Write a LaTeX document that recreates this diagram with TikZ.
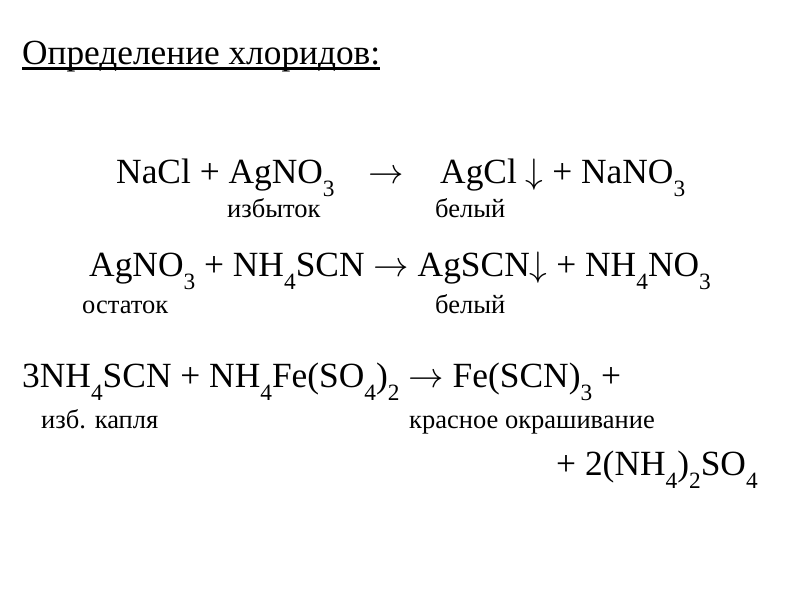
\documentclass[tikz,border=0pt]{standalone}
\usepackage{fontspec}
\setmainfont{Liberation Serif}
\usetikzlibrary{positioning}
\newcommand{\dn}[1]{\raisebox{-0.8ex}{\scalebox{0.66}{#1}}}
\newcommand{\yields}{\scalebox{3.54}{\fontsize{10}{10}\selectfont$\rightarrow$}}
\newcommand{\precip}{\scalebox{3.54}{\fontsize{10}{10}\selectfont$\downarrow$}}
\begin{document}
\begin{tikzpicture}[x=1pt,y=-1pt,
  formula/.style={anchor=base west,inner sep=0pt,font=\fontsize{35.4}{36}\selectfont},
  note/.style={anchor=base west,inner sep=0pt,font=\fontsize{26.5}{27}\selectfont},
  title/.style={anchor=base west,inner sep=0pt,font=\fontsize{35.3}{36}\selectfont}
  ]
  \useasboundingbox (0,0) rectangle (800,600);
  \node[title] (head) at (22,64.5) {Определение хлоридов:};
  \draw[line width=2.2pt] ([yshift=-4pt]head.base west) -- ([yshift=-4pt]head.base east);

  \node[formula] (naclA) at (116,183) {NaCl + AgNO\dn{3}};
  \node[formula] (arrowA) at (368,183) {\yields};
  \node[formula] (agclA) at (440,183) {AgCl \precip{} + NaNO\dn{3}};
  \node[note] (excess) at (227,217) {избыток};
  \node[note] (whiteA) at (435,217) {белый};

  \node[formula] (agno) at (89,276) {AgNO\dn{3} + NH\dn{4}SCN \yields{} AgSCN\precip{} + NH\dn{4}NO\dn{3}};
  \node[note] (rest) at (82,313) {остаток};
  \node[note] (whiteB) at (435,313) {белый};

  \node[formula] (scn) at (22,387) {3NH\dn{4}SCN + NH\dn{4}Fe(SO\dn{4})\dn{2} \yields{} Fe(SCN)\dn{3} +};
  \node[note] (drop) at (41,428) {изб. капля};
  \node[note] (red) at (409,428) {красное окрашивание};
  \node[formula] (sulf) at (556,475.5) {+ 2(NH\dn{4})\dn{2}SO\dn{4}};
\end{tikzpicture}
\end{document}
